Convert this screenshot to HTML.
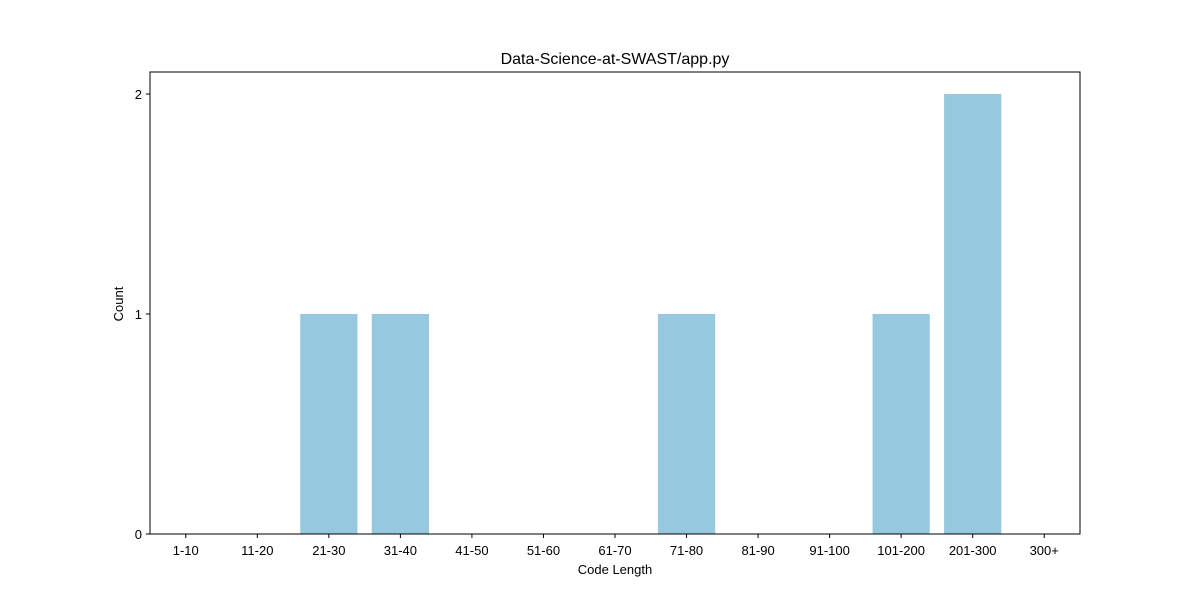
<!DOCTYPE html>
<html><head><meta charset="utf-8"><style>
body{margin:0;background:#fff;}
svg{display:block;font-family:"Liberation Sans","DejaVu Sans",sans-serif;}
</style></head><body>
<svg id="chart" width="1200" height="600">
<text x="615" y="64" font-size="16" text-anchor="middle">Data-Science-at-SWAST/app.py</text>
<g id="bars"></g>
<g id="xt"></g>
<g id="yt"></g>
<rect x="150" y="72" width="930" height="462" fill="none" stroke="#000" stroke-width="1"/>
<text x="615" y="574" font-size="13" text-anchor="middle">Code Length</text>
<text x="123" y="304" font-size="13" text-anchor="middle" transform="rotate(-90 123 304)">Count</text>
</svg>
<script>
const categories=["1-10","11-20","21-30","31-40","41-50","51-60","61-70","71-80","81-90","91-100","101-200","201-300","300+"];
const counts=[0,0,1,1,0,0,0,1,0,0,1,2,0];
const yTicks=[0,1,2];
const L=150,R=1080,T=72,B=534,yMax=2.1;
const step=(R-L)/categories.length;
const x=i=>L+step*(i+0.5);
const y=v=>B-(B-T)*v/yMax;
const NS="http://www.w3.org/2000/svg";
const bars=document.getElementById('bars'),xt=document.getElementById('xt'),yt=document.getElementById('yt');
function mk(t,a,p){const e=document.createElementNS(NS,t);for(const k in a)e.setAttribute(k,a[k]);p.appendChild(e);return e;}
categories.forEach((c,i)=>{
  const r=mk('rect',{x:x(i)-step*0.4,y:y(counts[i]),width:step*0.8,height:B-y(counts[i]),fill:'#96c9dd'},bars);
  
  
  const tk=mk('line',{x1:x(i),x2:x(i),y1:B,y2:B+4,stroke:'#000'},xt);
  
  
  const t=mk('text',{x:x(i),y:B+21,'font-size':13,'text-anchor':'middle'},xt);
  t.textContent=c;
  
  
});
yTicks.forEach(v=>{
  const tk=mk('line',{x1:L-4,x2:L,y1:y(v),y2:y(v),stroke:'#000'},yt);
  
  
  const t=mk('text',{x:L-8,y:y(v)+5,'font-size':13,'text-anchor':'end'},yt);
  t.textContent=v;
  
  
});
</script>
</body></html>
